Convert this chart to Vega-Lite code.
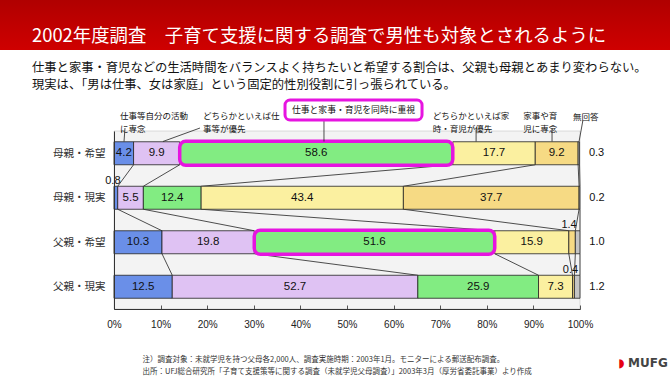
{
  "$schema": "https://vega.github.io/schema/vega-lite/v6.json",
  "width": 670,
  "height": 377,
  "autosize": {"type": "none"},
  "padding": 0,
  "background": "white",
  "title": {
    "text": "2002年度調査　子育て支援に関する調査で男性も対象とされるように",
    "subtitle": ["仕事と家事・育児などの生活時間をバランスよく持ちたいと希望する割合は、父親も母親とあまり変わらない。", "現実は、「男は仕事、女は家庭」という固定的性別役割に引っ張られている。"],
    "orient": "top",
    "anchor": "start",
    "frame": "group",
    "offset": -91,
    "dx": 32,
    "color": "white",
    "font": "Noto Sans CJK JP",
    "fontSize": 18.4,
    "fontWeight": "normal",
    "subtitleColor": "#111111",
    "subtitleFont": "Noto Sans CJK JP",
    "subtitleFontSize": 12.3,
    "subtitleLineHeight": 17,
    "subtitlePadding": 16
  },
  "config": {
    "view": {
      "stroke": null,
      "fill": {
        "gradient": "linear", "x1": 0, "y1": 0, "x2": 0, "y2": 1,
        "stops": [
          {"offset": 0, "color": "#b00000"},
          {"offset": 0.1326, "color": "#cf0000"},
          {"offset": 0.1327, "color": "#ffffff"},
          {"offset": 1, "color": "#ffffff"}
        ]
      }
    },
    "axis": {"grid": false, "title": null}
  },
  "datasets": {
    "bars": [
      {"row": "母親・希望", "r": 0, "c": 1, "value": 4.2},
      {"row": "母親・希望", "r": 0, "c": 2, "value": 9.9},
      {"row": "母親・希望", "r": 0, "c": 3, "value": 58.6},
      {"row": "母親・希望", "r": 0, "c": 4, "value": 17.7},
      {"row": "母親・希望", "r": 0, "c": 5, "value": 9.2},
      {"row": "母親・希望", "r": 0, "c": 6, "value": 0.3},
      {"row": "母親・現実", "r": 1, "c": 1, "value": 0.8},
      {"row": "母親・現実", "r": 1, "c": 2, "value": 5.5},
      {"row": "母親・現実", "r": 1, "c": 3, "value": 12.4},
      {"row": "母親・現実", "r": 1, "c": 4, "value": 43.4},
      {"row": "母親・現実", "r": 1, "c": 5, "value": 37.7},
      {"row": "母親・現実", "r": 1, "c": 6, "value": 0.2},
      {"row": "父親・希望", "r": 2, "c": 1, "value": 10.3},
      {"row": "父親・希望", "r": 2, "c": 2, "value": 19.8},
      {"row": "父親・希望", "r": 2, "c": 3, "value": 51.6},
      {"row": "父親・希望", "r": 2, "c": 4, "value": 15.9},
      {"row": "父親・希望", "r": 2, "c": 5, "value": 1.4},
      {"row": "父親・希望", "r": 2, "c": 6, "value": 1.0},
      {"row": "父親・現実", "r": 3, "c": 1, "value": 12.5},
      {"row": "父親・現実", "r": 3, "c": 2, "value": 52.7},
      {"row": "父親・現実", "r": 3, "c": 3, "value": 25.9},
      {"row": "父親・現実", "r": 3, "c": 4, "value": 7.3},
      {"row": "父親・現実", "r": 3, "c": 5, "value": 0.4},
      {"row": "父親・現実", "r": 3, "c": 6, "value": 1.2}
    ],
    "labels": [
      {"t": "仕事等自分の活動\nに専念", "x": 1.3, "y": -0.83},
      {"t": "どちらかといえば仕\n事等が優先", "x": 19.1, "y": -0.83},
      {"t": "どちらかといえば家\n時・育児が優先", "x": 68.4, "y": -0.83},
      {"t": "家事や育\n児に専念", "x": 87.8, "y": -0.83},
      {"t": "無回答", "x": 98.5, "y": -0.82}
    ],
    "leaders": [
      {"x": 2.36, "y": -0.567, "x2": 2.15, "y2": -0.264},
      {"x": 18.45, "y": -0.567, "x2": 10.5, "y2": -0.264},
      {"x": 45.06, "y": -0.747, "x2": 45.06, "y2": -0.264},
      {"x": 77.7, "y": -0.567, "x2": 77.7, "y2": -0.264},
      {"x": 94.0, "y": -0.567, "x2": 94.0, "y2": -0.264},
      {"x": 100.6, "y": -0.725, "x2": 99.8, "y2": -0.264}
    ],
    "box": [
      {"t": "仕事と家事・育児を同時に重視", "x": 36.7, "x2": 66.1, "y": -1.197, "y2": -0.747, "xm": 51.4, "ym": -0.972}
    ],
    "logo": [
      {"t": "◗", "x": 108.2, "y": 4.71, "k": "sym"},
      {"t": "MUFG", "x": 110.3, "y": 4.71, "k": "txt"}
    ]
  },
  "layer": [
    {
      "data": {"values": [{}]},
      "mark": {"type": "rect", "fill": "#f3f3f3", "stroke": "#b8b8b8", "strokeWidth": 0.5},
      "encoding": {
        "x": {"datum": 0, "type": "quantitative", "scale": {"domain": [0, 100], "range": [114, 580], "nice": false, "zero": false}},
        "x2": {"datum": 100},
        "y": {"datum": -0.5, "type": "quantitative", "scale": {"domain": [-0.5, 3.5], "range": [131, 309], "nice": false, "zero": false}},
        "y2": {"datum": 3.5}
      }
    },
    {
      "data": {"name": "bars"},
      "transform": [
        {"stack": "value", "groupby": ["row"], "sort": [{"field": "c", "order": "ascending"}], "as": ["x0", "x1"]},
        {"pivot": "row", "value": "x1", "groupby": ["c"]}
      ],
      "layer": [
        {
          "mark": {"type": "rule", "color": "#222222", "strokeWidth": 0.8, "yOffset": 11.5, "y2Offset": -11.5},
          "encoding": {
            "x": {"field": "母親・希望", "type": "quantitative", "scale": {"domain": [0, 100], "range": [114, 580], "nice": false, "zero": false}},
            "x2": {"field": "母親・現実"},
            "y": {"datum": 0, "type": "quantitative", "scale": {"domain": [-0.5, 3.5], "range": [131, 309], "nice": false, "zero": false}},
            "y2": {"datum": 1}
          }
        },
        {
          "mark": {"type": "rule", "color": "#222222", "strokeWidth": 0.8, "yOffset": 11.5, "y2Offset": -11.5},
          "encoding": {
            "x": {"field": "母親・現実", "type": "quantitative", "scale": {"domain": [0, 100], "range": [114, 580], "nice": false, "zero": false}},
            "x2": {"field": "父親・希望"},
            "y": {"datum": 1, "type": "quantitative", "scale": {"domain": [-0.5, 3.5], "range": [131, 309], "nice": false, "zero": false}},
            "y2": {"datum": 2}
          }
        },
        {
          "mark": {"type": "rule", "color": "#222222", "strokeWidth": 0.8, "yOffset": 11.5, "y2Offset": -11.5},
          "encoding": {
            "x": {"field": "父親・希望", "type": "quantitative", "scale": {"domain": [0, 100], "range": [114, 580], "nice": false, "zero": false}},
            "x2": {"field": "父親・現実"},
            "y": {"datum": 2, "type": "quantitative", "scale": {"domain": [-0.5, 3.5], "range": [131, 309], "nice": false, "zero": false}},
            "y2": {"datum": 3}
          }
        }
      ]
    },
    {
      "data": {"name": "bars"},
      "transform": [
        {"stack": "value", "groupby": ["row"], "sort": [{"field": "c", "order": "ascending"}], "as": ["x0", "x1"]},
        {"calculate": "(datum.x0 + datum.x1) / 2", "as": "mid"},
        {"calculate": "datum.c == 3 && (datum.r == 0 || datum.r == 2)", "as": "hl"}
      ],
      "layer": [
        {
          "transform": [{"filter": "!datum.hl"}],
          "mark": {"type": "rect", "stroke": "#222222", "strokeWidth": 0.8, "yOffset": -11.5, "y2Offset": 11.5},
          "encoding": {
            "x": {
              "field": "x0", "type": "quantitative",
              "scale": {"domain": [0, 100], "range": [114, 580], "nice": false, "zero": false},
              "axis": {
                "zindex": 2,
                "values": [0, 10, 20, 30, 40, 50, 60, 70, 80, 90, 100],
                "labelExpr": "datum.value + '%'",
                "offset": -68,
                "grid": false,
                "domainColor": "#333333",
                "tickColor": "#555555",
                "tickSize": -4,
                "labelPadding": 14,
                "labelFont": "Liberation Sans",
                "labelFontSize": 10,
                "labelColor": "#222222",
                "labelFlush": false,
                "labelOverlap": false,
                "title": ["注）調査対象：未就学児を持つ父母各2,000人、調査実施時期：2003年1月。モニターによる郵送配布調査。", "出所：UFJ総合研究所「子育て支援策等に関する調査（未就学児父母調査）」2003年3月（厚労省委託事業）より作成"],
                "titleX": 142,
                "titleY": 50,
                "titleAlign": "left",
                "titleBaseline": "middle",
                "titleFont": "Noto Sans CJK JP",
                "titleFontSize": 7.5,
                "titleFontWeight": "normal",
                "titleColor": "#333333",
                "titleLineHeight": 12
              }
            },
            "x2": {"field": "x1"},
            "y": {
              "field": "r", "type": "quantitative",
              "scale": {"domain": [-0.5, 3.5], "range": [131, 309], "nice": false, "zero": false},
              "axis": {
                "zindex": 2,
                "values": [0, 1, 2, 3],
                "labelExpr": "['母親・希望','母親・現実','父親・希望','父親・現実'][datum.value]",
                "offset": -114,
                "ticks": false,
                "grid": false,
                "domainColor": "#333333",
                "labelPadding": 9,
                "labelFont": "Noto Sans CJK JP",
                "labelFontSize": 10.5,
                "labelColor": "#333333",
                "title": null
              }
            },
            "y2": {"field": "r"},
            "fill": {
              "field": "c", "type": "nominal",
              "scale": {"domain": [1, 2, 3, 4, 5, 6], "range": ["#6a8fe8", "#dfc2f3", "#82ec82", "#fbf0a0", "#f6da84", "#c4c4c4"]},
              "legend": null
            }
          }
        },
        {
          "transform": [{"filter": "datum.hl"}],
          "mark": {"type": "rect", "fill": "#82ec82", "stroke": "#e614e0", "strokeWidth": 3.5, "cornerRadius": 6, "yOffset": -12, "y2Offset": 12},
          "encoding": {
            "x": {"field": "x0", "type": "quantitative", "scale": {"domain": [0, 100], "range": [114, 580], "nice": false, "zero": false}},
            "x2": {"field": "x1"},
            "y": {"field": "r", "type": "quantitative", "scale": {"domain": [-0.5, 3.5], "range": [131, 309], "nice": false, "zero": false}},
            "y2": {"field": "r"}
          }
        },
        {
          "transform": [{"filter": "datum.value >= 2 && datum.c < 6"}],
          "mark": {"type": "text", "font": "Liberation Sans", "fontSize": 11.5, "color": "#111111", "align": "center", "baseline": "middle"},
          "encoding": {
            "x": {"field": "mid", "type": "quantitative", "scale": {"domain": [0, 100], "range": [114, 580], "nice": false, "zero": false}},
            "y": {"field": "r", "type": "quantitative", "scale": {"domain": [-0.5, 3.5], "range": [131, 309], "nice": false, "zero": false}},
            "text": {"field": "value", "type": "quantitative", "format": ".1f"}
          }
        },
        {
          "transform": [{"filter": "datum.value < 2 && datum.c < 6"}],
          "mark": {"type": "text", "font": "Liberation Sans", "fontSize": 11, "color": "#111111", "align": "center", "baseline": "middle", "dy": -17, "dx": -3},
          "encoding": {
            "x": {"field": "mid", "type": "quantitative", "scale": {"domain": [0, 100], "range": [114, 580], "nice": false, "zero": false}},
            "y": {"field": "r", "type": "quantitative", "scale": {"domain": [-0.5, 3.5], "range": [131, 309], "nice": false, "zero": false}},
            "text": {"field": "value", "type": "quantitative", "format": ".1f"}
          }
        },
        {
          "transform": [{"filter": "datum.c == 6"}],
          "mark": {"type": "text", "font": "Liberation Sans", "fontSize": 11, "color": "#111111", "align": "center", "baseline": "middle", "dx": 17},
          "encoding": {
            "x": {"field": "x1", "type": "quantitative", "scale": {"domain": [0, 100], "range": [114, 580], "nice": false, "zero": false}},
            "y": {"field": "r", "type": "quantitative", "scale": {"domain": [-0.5, 3.5], "range": [131, 309], "nice": false, "zero": false}},
            "text": {"field": "value", "type": "quantitative", "format": ".1f"}
          }
        }
      ]
    },
    {
      "data": {"name": "leaders"},
      "mark": {"type": "rule", "color": "#222222", "strokeWidth": 0.8},
      "encoding": {
        "x": {"field": "x", "type": "quantitative", "scale": {"domain": [0, 100], "range": [114, 580], "nice": false, "zero": false}},
        "x2": {"field": "x2"},
        "y": {"field": "y", "type": "quantitative", "scale": {"domain": [-0.5, 3.5], "range": [131, 309], "nice": false, "zero": false}},
        "y2": {"field": "y2"}
      }
    },
    {
      "data": {"name": "labels"},
      "mark": {"type": "text", "font": "Noto Sans CJK JP", "fontSize": 8.5, "color": "#111111", "align": "left", "baseline": "middle", "lineBreak": "\n", "lineHeight": 13},
      "encoding": {
        "x": {"field": "x", "type": "quantitative", "scale": {"domain": [0, 100], "range": [114, 580], "nice": false, "zero": false}},
        "y": {"field": "y", "type": "quantitative", "scale": {"domain": [-0.5, 3.5], "range": [131, 309], "nice": false, "zero": false}},
        "text": {"field": "t", "type": "nominal"}
      }
    },
    {
      "data": {"name": "box"},
      "layer": [
        {
          "mark": {"type": "rect", "fill": "white", "stroke": "#e614e0", "strokeWidth": 3, "cornerRadius": 5},
          "encoding": {
            "x": {"field": "x", "type": "quantitative", "scale": {"domain": [0, 100], "range": [114, 580], "nice": false, "zero": false}},
            "x2": {"field": "x2"},
            "y": {"field": "y", "type": "quantitative", "scale": {"domain": [-0.5, 3.5], "range": [131, 309], "nice": false, "zero": false}},
            "y2": {"field": "y2"}
          }
        },
        {
          "mark": {"type": "text", "font": "Noto Sans CJK JP", "fontSize": 8.8, "color": "#111111", "align": "center", "baseline": "middle"},
          "encoding": {
            "x": {"field": "xm", "type": "quantitative", "scale": {"domain": [0, 100], "range": [114, 580], "nice": false, "zero": false}},
            "y": {"field": "ym", "type": "quantitative", "scale": {"domain": [-0.5, 3.5], "range": [131, 309], "nice": false, "zero": false}},
            "text": {"field": "t", "type": "nominal"}
          }
        }
      ]
    },
    {
      "data": {"name": "logo"},
      "mark": {"type": "text", "font": "DejaVu Sans", "fontSize": 12, "fontWeight": "bold", "align": "left", "baseline": "middle"},
      "encoding": {
        "x": {"field": "x", "type": "quantitative", "scale": {"domain": [0, 100], "range": [114, 580], "nice": false, "zero": false}},
        "y": {"field": "y", "type": "quantitative", "scale": {"domain": [-0.5, 3.5], "range": [131, 309], "nice": false, "zero": false}},
        "text": {"field": "t", "type": "nominal"},
        "color": {"field": "k", "type": "nominal", "scale": {"domain": ["sym", "txt"], "range": ["#e60012", "#444444"]}, "legend": null}
      }
    }
  ]
}
